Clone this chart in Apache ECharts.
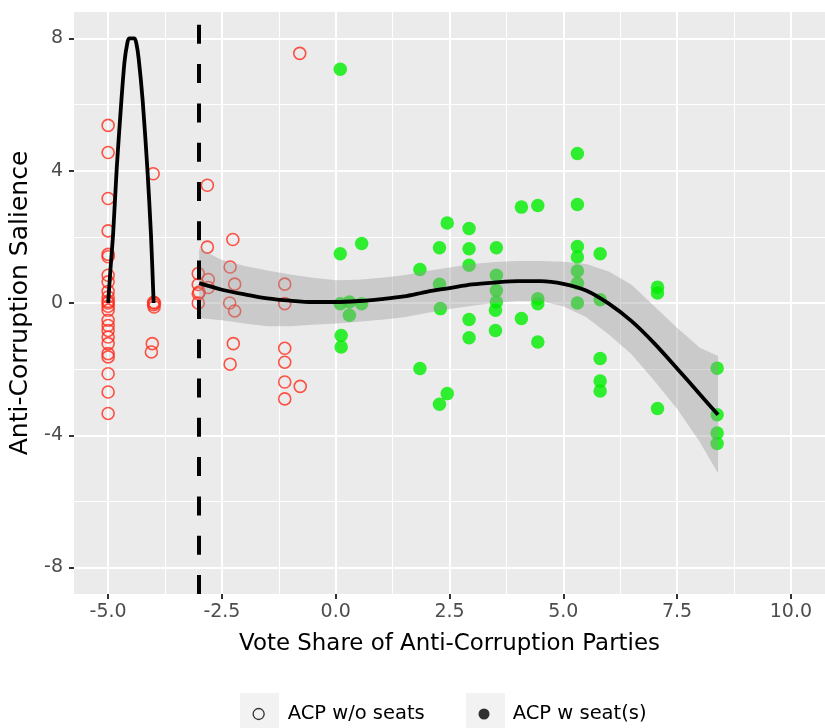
<!DOCTYPE html>
<html><head><meta charset="utf-8">
<script src="https://cdn.jsdelivr.net/npm/echarts@6/dist/echarts.min.js"></script>
<style>html,body{margin:0;padding:0;background:#fff}#c{width:825px;height:728px}</style>
</head><body><div id="c"></div>
<script>
// Axis ticks
const xTicks = [-5, -2.5, 0, 2.5, 5, 7.5, 10];
const xMinor = [-3.75, -1.25, 1.25, 3.75, 6.25, 8.75];
const yTicks = [-8, -4, 0, 4, 8];
const yMinor = [-6, -2, 2, 6];

// ACP without seats (red hollow circles)
const noSeatX = [-5, -5, -5, -5, -5, -5, -5, -5, -5, -5, -5, -5, -5, -5, -5, -5, -5, -5, -5, -5, -5, -5, -5, -5,
  -4.01, -4.0, -3.98, -4.0, -3.99, -4.03, -4.05,
  -3.02, -3.02, -3.0, -3.02, -3.02,
  -2.82, -2.82, -2.8, -2.8,
  -2.26, -2.32, -2.22, -2.33, -2.22, -2.25, -2.32,
  -1.12, -1.12, -1.12, -1.12, -1.12, -1.12,
  -0.78, -0.79];
const noSeatY = [5.37, 4.55, 3.16, 2.18, 1.47, 1.40, 0.84, 0.64, 0.35, 0.18, 0.05, 0.0, -0.1, -0.22, -0.52, -0.68, -0.83, -1.03, -1.23, -1.53, -1.63, -2.14, -2.69, -3.34,
  3.91, 0.02, 0.0, -0.05, -0.12, -1.23, -1.48,
  0.89, 0.56, 0.33, 0.28, 0.0,
  3.56, 1.69, 0.71, 0.47,
  1.92, 1.09, 0.57, 0.0, -0.24, -1.23, -1.85,
  0.57, -0.02, -1.37, -1.79, -2.39, -2.90,
  -2.52, 7.55];

// ACP with seat(s) (green filled)
const seatX = [0.10, 0.10, 0.57, 0.10, 0.30, 0.57, 0.30, 0.12, 0.12,
  1.85, 1.85,
  2.28, 2.45, 2.28, 2.30, 2.45, 2.28,
  2.93, 2.93, 2.93, 2.93, 2.93,
  3.53, 3.53, 3.53, 3.53, 3.51, 3.51,
  4.08, 4.44, 4.44, 4.44, 4.08, 4.44,
  5.31, 5.31, 5.31, 5.31, 5.31, 5.31, 5.31,
  5.81, 5.81, 5.81, 5.81, 5.81,
  7.07, 7.07, 7.07,
  8.38, 8.38, 8.38, 8.38];
const seatY = [7.07, 1.49, 1.80, -0.02, 0.03, -0.02, -0.37, -0.98, -1.33,
  1.01, -1.98,
  1.67, 2.42, 0.57, -0.17, -2.74, -3.06,
  2.25, 1.64, 1.14, -0.50, -1.05,
  1.67, 0.84, 0.38, 0.03, -0.22, -0.83,
  2.90, 2.95, 0.13, -0.02, -0.47, -1.18,
  4.52, 2.98, 1.71, 1.39, 0.97, 0.60, 0.0,
  1.49, 0.10, -1.68, -2.36, -2.66,
  0.48, 0.30, -3.19,
  -1.97, -3.38, -3.93, -4.25];

// Threshold
const cutoff = -3;

// Fitted curve below the threshold
const fitLeftX = [-5.0, -4.95, -4.89, -4.81, -4.71, -4.64, -4.58, -4.54, -4.42, -4.38, -4.33, -4.24, -4.14, -4.06, -4.0];
const fitLeftY = [0, 1.0, 2.1, 4.1, 6.1, 7.3, 7.85, 8.0, 8.0, 7.85, 7.4, 6.1, 4.1, 2.1, 0];

// Fitted curve above the threshold with confidence band
const fitRightX = [-3.0, -2.5, -2.0, -1.5, -1.0, -0.5, 0.0, 0.5, 1.0, 1.5, 2.0, 2.5, 3.0, 3.5, 4.0, 4.5, 5.0, 5.5, 6.0, 6.5, 7.0, 7.5, 8.0, 8.4];
const fitRightY = [0.60, 0.40, 0.26, 0.14, 0.07, 0.03, 0.03, 0.06, 0.12, 0.20, 0.34, 0.45, 0.56, 0.62, 0.66, 0.66, 0.58, 0.38, -0.02, -0.55, -1.22, -1.98, -2.76, -3.38];
const fitRightLo = [-0.45, -0.52, -0.62, -0.70, -0.70, -0.66, -0.62, -0.57, -0.51, -0.43, -0.30, -0.18, -0.08, 0.01, 0.06, 0.05, -0.10, -0.42, -0.95, -1.55, -2.35, -3.20, -4.20, -5.15];
const fitRightHi = [1.65, 1.30, 1.12, 0.98, 0.86, 0.76, 0.69, 0.70, 0.76, 0.84, 0.97, 1.07, 1.18, 1.24, 1.27, 1.27, 1.25, 1.18, 0.95, 0.55, -0.10, -0.75, -1.35, -1.60];

const FONT = 'DejaVu Sans';
const chart = echarts.init(document.getElementById('c'), null, {renderer: 'canvas'});

const pairs = (xs, ys) => xs.map((x, i) => [x, ys[i]]);

const option = {
  animation: false,
  backgroundColor: '#ffffff',
  grid: {left: 74, top: 12, width: 763, height: 582, backgroundColor: '#EBEBEB', show: true, borderWidth: 0},
  xAxis: [{
    type: 'value', min: -5.75, max: 10.75, position: 'bottom',
    axisLine: {show: false, onZero: false},
    axisTick: {show: true, customValues: xTicks, length: 5, lineStyle: {color: '#333333', width: 2}},
    axisLabel: {customValues: xTicks, formatter: v => v.toFixed(1), color: '#4D4D4D', fontSize: 19, fontFamily: FONT, margin: 9},
    splitLine: {show: true, lineStyle: {color: '#ffffff', width: 2}},
    name: 'Vote Share of Anti-Corruption Parties', nameLocation: 'middle', nameGap: 39,
    nameTextStyle: {fontSize: 22.9, color: '#000000', fontFamily: FONT}
  }, {
    type: 'value', min: -5.75, max: 10.75, position: 'top',
    axisLine: {show: false, onZero: false},
    axisTick: {show: false, customValues: xMinor},
    axisLabel: {show: false},
    splitLine: {show: true, lineStyle: {color: '#ffffff', width: 1}}
  }],
  yAxis: [{
    type: 'value', min: -8.8, max: 8.8, position: 'left',
    axisLine: {show: false, onZero: false},
    axisTick: {show: true, customValues: yTicks, length: 5, lineStyle: {color: '#333333', width: 2}},
    axisLabel: {customValues: yTicks, formatter: v => String(v), color: '#4D4D4D', fontSize: 19, fontFamily: FONT, margin: 11},
    splitLine: {show: true, lineStyle: {color: '#ffffff', width: 2}},
    name: 'Anti-Corruption Salience', nameLocation: 'middle', nameGap: 33,
    nameTextStyle: {fontSize: 25, color: '#000000', fontFamily: FONT}
  }, {
    type: 'value', min: -8.8, max: 8.8, position: 'right',
    axisLine: {show: false, onZero: false},
    axisTick: {show: false, customValues: yMinor},
    axisLabel: {show: false},
    splitLine: {show: true, lineStyle: {color: '#ffffff', width: 1}}
  }],
  legend: [{
    left: 252.5, top: 704, padding: 0, selectedMode: false,
    itemWidth: 48, itemHeight: 11,
    textStyle: {fontSize: 19.5, color: '#000000', fontFamily: FONT},
    data: [{name: 'ACP w/o seats', icon: 'circle', itemStyle: {color: 'rgba(0,0,0,0)', borderColor: '#000000', borderWidth: 1.3}}]
  }, {
    left: 478.5, top: 704, padding: 0, selectedMode: false,
    itemWidth: 47.5, itemHeight: 11,
    textStyle: {fontSize: 19.5, color: '#000000', fontFamily: FONT},
    data: [{name: 'ACP w seat(s)', icon: 'circle', itemStyle: {color: '#000000', borderWidth: 0}}]
  }],
  graphic: [
    {type: 'rect', left: 240, top: 693, shape: {width: 39, height: 40}, style: {fill: '#F2F2F2'}, z: 0},
    {type: 'rect', left: 466, top: 693, shape: {width: 39, height: 40}, style: {fill: '#F2F2F2'}, z: 0}
  ],
  series: [{
    name: 'ACP w/o seats', type: 'scatter', z: 2,
    symbol: 'circle', symbolSize: 12,
    itemStyle: {color: 'rgba(0,0,0,0)', borderColor: '#FF2A1A', borderWidth: 1.6},
    data: pairs(noSeatX, noSeatY)
  }, {
    name: 'ACP w seat(s)', type: 'scatter', z: 2,
    symbol: 'circle', symbolSize: 13.5,
    itemStyle: {color: '#00EE00'},
    data: pairs(seatX, seatY)
  }, {
    name: 'band', type: 'custom', z: 3, clip: true, silent: true,
    data: fitRightX.map((x, i) => [x, fitRightLo[i], fitRightHi[i]]),
    encode: {x: 0, y: [1, 2]},
    renderItem: (params, api) => {
      if (params.dataIndex !== 0) return null;
      const pts = [];
      for (let i = 0; i < fitRightX.length; i++) pts.push(api.coord([fitRightX[i], fitRightHi[i]]));
      for (let i = fitRightX.length - 1; i >= 0; i--) pts.push(api.coord([fitRightX[i], fitRightLo[i]]));
      return {type: 'polygon', shape: {points: pts}, style: {fill: 'rgba(153,153,153,0.4)'}};
    }
  }, {
    name: 'fitLeft', type: 'line', z: 4, showSymbol: false, smooth: 0.25, silent: true,
    lineStyle: {color: '#000000', width: 3.8},
    data: pairs(fitLeftX, fitLeftY)
  }, {
    name: 'fitRight', type: 'line', z: 4, showSymbol: false, smooth: 0.3, silent: true,
    lineStyle: {color: '#000000', width: 3.8},
    data: pairs(fitRightX, fitRightY),
    markLine: {
      silent: true, symbol: 'none', z: 6,
      label: {show: false},
      lineStyle: {type: [19, 20.3], color: '#000000', width: 4, cap: 'butt'},
      emphasis: {disabled: true},
      data: [{xAxis: cutoff}]
    }
  }]
};
chart.setOption(option);
</script>
</body></html>
